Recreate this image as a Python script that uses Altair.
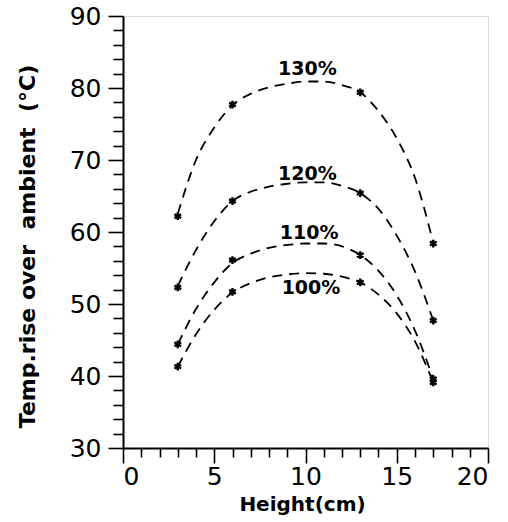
import altair as alt
import pandas as pd

# measured points
heights_measured = [3, 6, 13, 17]
rise_130 = [62.2, 77.7, 79.4, 58.4]
rise_120 = [52.3, 64.3, 65.4, 47.7]
rise_110 = [44.4, 56.1, 56.8, 39.6]
rise_100 = [41.3, 51.7, 53.0, 39.1]

# fitted curves
heights_curve = [3, 4, 5, 6, 7, 8, 9, 10, 11, 12, 13, 14, 15, 16, 17]
curve_130 = [62.5, 70.0, 74.5, 77.6, 79.2, 80.1, 80.6, 80.9, 80.9, 80.4, 79.4, 76.8, 73.0, 67.5, 58.5]
curve_120 = [52.5, 57.5, 61.5, 64.3, 65.6, 66.3, 66.7, 66.9, 66.9, 66.4, 65.4, 63.2, 59.5, 54.5, 47.7]
curve_110 = [44.4, 49.3, 53.0, 55.7, 57.0, 57.8, 58.2, 58.4, 58.4, 58.0, 56.8, 54.6, 51.2, 46.3, 39.6]
curve_100 = [41.3, 45.8, 49.2, 51.6, 52.9, 53.7, 54.1, 54.3, 54.2, 53.8, 53.0, 51.3, 48.7, 44.8, 39.1]

series_names = ["130%", "120%", "110%", "100%"]
label_x = [10.1, 10.1, 10.2, 10.3]
label_y = [82.65, 68.1, 59.8, 52.2]

x_ticks = list(range(0, 21))
y_ticks = list(range(30, 91, 2))

measured = [rise_130, rise_120, rise_110, rise_100]
curves = [curve_130, curve_120, curve_110, curve_100]

pts = pd.DataFrame(
    [{"series": s, "h": h, "t": t} for s, vals in zip(series_names, measured) for h, t in zip(heights_measured, vals)]
)
crv = pd.DataFrame(
    [{"series": s, "h": h, "t": t} for s, vals in zip(series_names, curves) for h, t in zip(heights_curve, vals)]
)
lab = pd.DataFrame({"series": series_names, "h": label_x, "t": label_y})

FONT = "DejaVu Sans"

x_axis = alt.Axis(
    values=x_ticks,
    labelExpr="datum.value % 5 === 0 ? datum.label : ''",
    tickSize={"condition": {"test": "datum.value % 5 === 0", "value": 15}, "value": 9},
    labelOverlap=False,
    labelPadding=1,
    labelFont=FONT,
    labelFontSize=25,
    labelColor="black",
    title="Height(cm)",
    titleFont=FONT,
    titleFontSize=20,
    titleFontWeight="bold",
    titleColor="black",
    titleBaseline="alphabetic",
    titleY=62,
    titleX=179,
    domainColor="black",
    domainWidth=2,
    tickColor="black",
    tickWidth=1.6,
    grid=False,
)
y_axis = alt.Axis(
    values=y_ticks,
    labelExpr="datum.value % 10 === 0 ? datum.label : ''",
    tickSize={"condition": {"test": "datum.value % 10 === 0", "value": 15}, "value": 10},
    labelOverlap=False,
    labelPadding=7,
    labelFont=FONT,
    labelFontSize=25,
    labelColor="black",
    title="Temp.rise over\u00a0\u00a0ambient\u00a0\u00a0(°C)",
    titleFont=FONT,
    titleFontSize=22,
    titleFontWeight="bold",
    titleColor="black",
    titleX=-84,
    titleY=230,
    domainColor="black",
    domainWidth=2,
    tickColor="black",
    tickWidth=1.6,
    grid=False,
)

xs = alt.Scale(domain=[0, 20], nice=False, zero=False)
ys = alt.Scale(domain=[30, 90], nice=False, zero=False)

X = alt.X("h:Q", scale=xs, axis=x_axis)
Y = alt.Y("t:Q", scale=ys, axis=y_axis)

lines = alt.Chart(crv).mark_line(
    strokeDash=[10, 7], strokeWidth=1.8, color="black", interpolate="monotone"
).encode(x=X, y=Y, detail="series:N")

asterisk = "M0,-1L0,1M-0.87,-0.5L0.87,0.5M-0.87,0.5L0.87,-0.5"
points = alt.Chart(pts).mark_point(
    shape=asterisk, size=60, filled=False, strokeWidth=2.4, color="black", opacity=1
).encode(x=X, y=Y)

labels = alt.Chart(lab).mark_text(
    font=FONT, fontSize=19, fontWeight="bold", color="black", align="center", baseline="middle"
).encode(x=X, y=Y, text="series:N")

chart = alt.layer(lines, points, labels).properties(
    width=365,
    height=432,
    autosize=alt.AutoSizeParams(type="none"),
    padding={"left": 123, "top": 16, "right": 20, "bottom": 74},
).configure_view(stroke=None).configure(background="white")

chart.save("out.html", embed_options={"renderer": "svg", "actions": False})
